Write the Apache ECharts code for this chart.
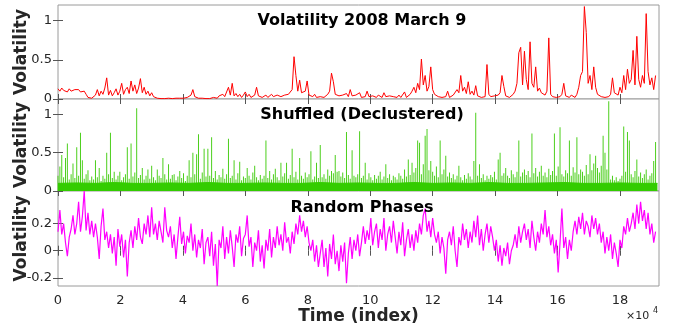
<!DOCTYPE html>
<html>
<head>
<meta charset="utf-8">
<script src="https://cdn.jsdelivr.net/npm/echarts@6/dist/echarts.min.js"></script>
<style>
  html, body { margin: 0; padding: 0; background: #fff; }
  #chart { width: 675px; height: 329px; }
</style>
</head>
<body>
<div id="chart"></div>
<script>
// sampling step of the time index (one value per step)
const TIME_STEP = 600;

const xTicks = [0, 20000, 40000, 60000, 80000, 100000, 120000, 140000, 160000, 180000];
const volTicks = [0, 0.5, 1];
const phaseTicks = [-0.2, 0, 0.2];

// panel 1: volatility 2008 March 9
const volatility = [
  0.13,0.1,0.14,0.11,0.12,0.09,0.13,0.1,0.11,0.12,
  0.1,0.12,0.09,0.11,0.1,0.06,0.02,0.01,0.01,0.03,
  0.05,0.12,0.04,0.1,0.06,0.14,0.27,0.05,0.11,0.04,
  0.08,0.13,0.05,0.1,0.2,0.06,0.12,0.15,0.07,0.23,
  0.1,0.18,0.07,0.14,0.26,0.08,0.15,0.06,0.1,0.04,
  0.08,0.03,0.02,0.01,0.01,0.005,0.01,0.005,0.01,0.01,
  0.01,0.005,0.01,0.01,0.005,0.01,0.02,0.01,0.01,0.02,
  0.02,0.05,0.12,0.03,0.01,0.01,0.005,0.01,0.01,0.005,
  0.01,0.005,0.01,0.02,0.01,0.01,0.04,0.02,0.06,0.03,
  0.04,0.15,0.05,0.2,0.04,0.07,0.03,0.06,0.02,0.05,
  0.09,0.03,0.06,0.02,0.04,0.05,0.15,0.04,0.03,0.02,
  0.03,0.05,0.02,0.04,0.06,0.03,0.02,0.05,0.04,0.03,
  0.03,0.05,0.04,0.06,0.08,0.12,0.54,0.3,0.1,0.24,
  0.08,0.06,0.1,0.23,0.05,0.04,0.03,0.06,0.02,0.04,
  0.03,0.05,0.02,0.04,0.06,0.1,0.33,0.22,0.06,0.05,
  0.04,0.02,0.05,0.03,0.07,0.03,0.12,0.04,0.02,0.05,
  0.03,0.08,0.02,0.04,0.03,0.1,0.03,0.02,0.04,0.03,
  0.02,0.05,0.03,0.02,0.08,0.03,0.02,0.04,0.02,0.03,
  0.03,0.02,0.05,0.02,0.03,0.09,0.02,0.04,0.06,0.1,
  0.15,0.08,0.2,0.12,0.51,0.18,0.3,0.1,0.16,0.41,
  0.12,0.06,0.04,0.03,0.05,0.02,0.04,0.03,0.1,0.02,
  0.03,0.05,0.04,0.12,0.08,0.3,0.1,0.15,0.07,0.22,
  0.06,0.1,0.05,0.17,0.04,0.03,0.02,0.04,0.03,0.44,
  0.06,0.03,0.02,0.04,0.03,0.05,0.08,0.3,0.16,0.04,
  0.03,0.02,0.04,0.06,0.1,0.2,0.59,0.66,0.18,0.61,
  0.25,0.12,0.73,0.2,0.15,0.41,0.1,0.14,0.08,0.06,
  0.05,0.1,0.78,0.06,0.03,0.05,0.02,0.04,0.03,0.06,
  0.2,0.04,0.03,0.02,0.05,0.03,0.02,0.06,0.15,0.3,
  0.35,1.18,0.85,0.2,0.3,0.12,0.41,0.15,0.06,0.04,
  0.03,0.05,0.02,0.04,0.03,0.06,0.27,0.08,0.1,0.05,
  0.15,0.08,0.3,0.12,0.38,0.2,0.25,0.62,0.18,0.8,
  0.25,0.15,0.3,0.2,1.09,0.35,0.18,0.27,0.12,0.3
];

// panel 2: shuffled series, peak per step
const shuffledPeaks = [
  0.2,0.32,0.47,0.18,0.43,0.62,0.15,0.22,0.36,0.17,
  0.57,0.2,0.76,0.4,0.16,0.22,0.27,0.14,0.19,0.15,
  0.4,0.18,0.3,0.13,0.2,0.16,0.5,0.22,0.76,0.17,
  0.25,0.15,0.2,0.25,0.14,0.18,0.22,0.57,0.16,0.62,
  0.19,0.24,1.08,0.17,0.21,0.3,0.15,0.2,0.28,0.16,
  0.33,0.18,0.14,0.28,0.2,0.17,0.43,0.22,0.15,0.35,
  0.16,0.21,0.22,0.14,0.19,0.26,0.17,0.23,0.13,0.2,
  0.4,0.18,0.5,0.22,0.48,0.74,0.16,0.24,0.55,0.19,
  0.55,0.2,0.7,0.17,0.26,0.15,0.21,0.18,0.29,0.16,
  0.22,0.68,0.17,0.2,0.4,0.15,0.23,0.38,0.14,0.19,
  0.17,0.3,0.2,0.15,0.24,0.33,0.18,0.14,0.21,0.16,
  0.2,0.66,0.17,0.26,0.15,0.22,0.29,0.18,0.14,0.37,
  0.19,0.23,0.37,0.16,0.21,0.55,0.18,0.25,0.15,0.43,
  0.2,0.16,0.24,0.18,0.22,0.52,0.15,0.19,0.37,0.17,
  0.6,0.18,0.22,0.16,0.28,0.2,0.26,0.23,0.47,0.25,
  0.26,0.19,0.24,0.17,0.77,0.21,0.16,0.53,0.2,0.18,
  0.22,0.78,0.17,0.2,0.37,0.15,0.23,0.18,0.14,0.21,
  0.16,0.2,0.25,0.15,0.19,0.35,0.17,0.22,0.14,0.2,
  0.18,0.15,0.23,0.2,0.16,0.28,0.19,0.41,0.21,0.37,
  0.24,0.3,0.66,0.63,0.22,0.35,0.72,0.81,0.27,0.39,
  0.25,0.2,0.32,0.18,0.66,0.22,0.28,0.46,0.19,0.24,
  0.17,0.22,0.15,0.2,0.33,0.18,0.14,0.21,0.16,0.23,
  0.19,0.15,0.39,1.02,0.2,0.35,0.17,0.22,0.14,0.2,
  0.16,0.21,0.18,0.25,0.15,0.41,0.5,0.2,0.23,0.3,
  0.2,0.17,0.27,0.22,0.18,0.25,0.66,0.19,0.24,0.28,
  0.21,0.26,0.18,0.75,0.23,0.3,0.19,0.25,0.33,0.2,
  0.24,0.18,0.29,0.21,0.26,0.75,0.2,0.32,0.83,0.22,
  0.19,0.27,0.23,0.66,0.2,0.31,0.24,0.7,0.22,0.28,
  0.25,0.2,0.34,0.22,0.48,0.27,0.36,0.46,0.3,0.24,
  0.33,0.72,0.5,0.28,1.17,0.15,0.2,0.14,0.18,0.13,
  0.16,0.2,0.84,0.25,0.77,0.66,0.22,0.18,0.26,0.41,
  0.19,0.24,0.17,0.22,0.28,0.15,0.2,0.23,0.39,0.64
];
// dense floor of the shuffled series (every 10 steps)
const shuffledFloor = [
  0.1,0.105,0.1,0.11,0.1,0.1,0.105,0.1,0.11,0.1,0.1,
  0.105,0.1,0.1,0.11,0.1,0.105,0.1,0.1,0.11,0.1,0.105,
  0.1,0.11,0.1,0.1,0.105,0.11,0.1,0.1,0.105,0.1,0.1
];

// panel 3: random phases
const randomPhases = [
  0.14,0.3,0.12,0.2,0.06,-0.04,0.1,0.16,0.26,0.12,
  0.2,0.36,0.14,0.25,0.44,0.15,0.28,0.12,0.22,0.1,
  0.2,0.1,-0.06,0.18,0.31,0.08,0.14,0.02,0.12,-0.02,
  0.1,-0.11,0.16,0.03,0.12,-0.05,0.08,-0.19,0.06,0.15,
  0.02,0.18,0.08,0.24,0.1,0.05,0.2,0.12,0.26,0.1,
  0.32,0.12,0.2,0.08,0.22,0.14,0.06,0.32,0.15,0.1,
  0.18,0.02,0.12,-0.06,0.1,0.25,0.05,0.14,-0.02,0.11,
  0.06,0.2,0.0,0.12,-0.05,0.08,0.02,0.16,-0.1,0.06,
  0.1,-0.04,0.14,-0.11,0.05,-0.26,0.08,0.02,0.18,-0.06,
  0.1,-0.02,0.15,0.03,-0.12,0.12,0.06,0.18,-0.04,0.09,
  0.12,0.26,0.03,0.1,-0.12,0.06,0.0,0.15,-0.08,0.04,
  -0.13,0.08,0.0,0.16,-0.05,0.1,0.02,0.18,0.04,0.12,
  0.0,0.21,0.06,0.1,-0.02,0.14,0.05,0.2,0.12,0.26,
  0.14,0.22,0.1,0.18,0.06,0.0,0.08,-0.08,0.04,-0.12,
  -0.02,0.08,-0.12,0.02,-0.19,0.05,-0.06,0.12,-0.1,0.0,
  -0.15,0.04,-0.08,0.06,-0.24,-0.02,0.1,-0.06,0.08,0.0,
  0.12,-0.04,0.06,0.18,0.05,0.15,0.08,0.24,0.04,0.14,
  0.2,0.02,0.16,0.08,0.24,0.0,0.12,0.18,0.06,0.22,
  0.1,-0.02,0.14,0.04,0.21,-0.04,0.08,0.16,0.02,0.12,
  0.0,0.15,0.06,0.2,0.12,0.26,0.31,0.14,0.22,0.1,
  0.24,0.12,0.06,0.14,-0.02,0.1,0.02,-0.17,0.08,0.14,
  0.04,0.18,0.0,-0.12,0.1,0.04,0.2,0.08,0.16,0.02,
  0.14,0.06,0.22,0.1,0.26,0.04,0.16,0.0,0.12,0.2,
  0.06,0.18,0.1,0.0,0.08,-0.08,0.04,-0.11,0.02,-0.04,
  0.06,-0.1,0.0,0.04,0.12,0.02,0.18,0.06,0.14,0.2,
  0.08,0.16,0.02,0.22,0.1,0.0,0.14,0.06,0.2,0.12,
  0.3,0.1,0.18,0.04,0.12,-0.02,0.08,-0.16,0.06,0.31,
  0.02,0.1,-0.06,0.08,0.0,0.14,0.22,0.12,0.25,0.16,
  0.28,0.12,0.22,0.18,0.1,0.26,0.16,0.24,0.12,0.2,
  0.06,0.14,-0.02,0.1,0.0,0.12,-0.06,0.06,-0.02,-0.12,
  0.08,0.02,0.18,0.12,0.24,0.14,0.2,0.28,0.16,0.34,
  0.2,0.36,0.22,0.3,0.16,0.28,0.12,0.2,0.06,0.14
];

const toPairs = (arr, step) => arr.map((v, i) => [i * step, v]);

const FONT = 'DejaVu Sans';
const TEXT = '#262626';
const X_MAX = 192500;

const grids = [
  { left: 58, right: 16, top: 5, height: 94 },
  { left: 58, right: 16, top: 99, height: 92 },
  { left: 58, right: 16, top: 191, height: 95 },
].map(g => Object.assign(g, {
  show: true, borderColor: '#9a9a9a', borderWidth: 1, backgroundColor: '#fff',
  containLabel: false, outerBoundsMode: 'none',
}));

function tick(values) {
  return { show: true, inside: true, length: 5, customValues: values, lineStyle: { color: '#555' } };
}

const xAxes = [];
const yAxes = [];
[0, 1, 2].forEach(g => {
  const showLabel = g === 2;
  xAxes.push({
    type: 'value', gridIndex: g, min: 0, max: X_MAX, position: 'bottom',
    axisLine: { show: false }, splitLine: { show: false },
    axisTick: tick(xTicks),
    axisLabel: {
      show: showLabel, customValues: xTicks, margin: 8,
      fontFamily: FONT, fontSize: 13, color: TEXT,
      formatter: v => String(v / 10000),
    },
    name: showLabel ? 'Time (index)' : '',
    nameLocation: 'middle', nameGap: 22,
    nameTextStyle: { fontFamily: FONT, fontSize: 17, fontWeight: 'bold', color: TEXT },
  });
  xAxes.push({
    type: 'value', gridIndex: g, min: 0, max: X_MAX, position: 'top',
    axisLine: { show: false }, splitLine: { show: false },
    axisTick: tick(xTicks), axisLabel: { show: false },
  });
  const ticks = g === 2 ? phaseTicks : volTicks;
  const range = g === 2 ? { min: -0.26, max: 0.44 } : { min: 0, max: 1.2 };
  yAxes.push(Object.assign({
    type: 'value', gridIndex: g, position: 'left',
    axisLine: { show: false }, splitLine: { show: false },
    axisTick: tick(ticks),
    axisLabel: { customValues: ticks, margin: 6, fontFamily: FONT, fontSize: 13, color: TEXT },
    name: 'Volatility', nameLocation: 'middle', nameRotate: 90, nameGap: 28,
    nameMoveOverlap: false,
    nameTextStyle: { fontFamily: FONT, fontSize: 17, fontWeight: 'bold', color: TEXT },
  }, range));
  yAxes.push(Object.assign({
    type: 'value', gridIndex: g, position: 'right',
    axisLine: { show: false }, splitLine: { show: false },
    axisTick: tick(ticks), axisLabel: { show: false },
  }, range));
});

const titleStyle = { fontFamily: FONT, fontSize: 16, fontWeight: 'bold', color: '#000' };

const chart = echarts.init(document.getElementById('chart'));
chart.setOption({
  animation: false,
  backgroundColor: '#fff',
  title: [
    { text: 'Volatility 2008 March 9', left: 357, top: 8, textAlign: 'center', textStyle: titleStyle },
    { text: 'Shuffled (Declustered)', left: 357, top: 102, textAlign: 'center', textStyle: titleStyle },
    { text: 'Random Phases', left: 357, top: 195, textAlign: 'center', textStyle: titleStyle },
  ],
  grid: grids,
  xAxis: xAxes,
  yAxis: yAxes,
  series: [
    {
      type: 'line', xAxisIndex: 0, yAxisIndex: 0, data: toPairs(volatility, TIME_STEP),
      symbol: 'none', lineStyle: { color: '#ff0000', width: 1 }, itemStyle: { color: '#ff0000' },
    },
    {
      type: 'bar', xAxisIndex: 2, yAxisIndex: 2, data: toPairs(shuffledPeaks, TIME_STEP),
      barWidth: 1, itemStyle: { color: '#4ccf1c' },
    },
    {
      type: 'line', xAxisIndex: 2, yAxisIndex: 2, data: toPairs(shuffledFloor, TIME_STEP * 10),
      symbol: 'none', lineStyle: { color: '#33cc00', width: 1 },
      areaStyle: { color: '#33cc00', opacity: 1 },
    },
    {
      type: 'line', xAxisIndex: 4, yAxisIndex: 4, data: toPairs(randomPhases, TIME_STEP),
      symbol: 'none', lineStyle: { color: '#ff00ff', width: 1.2 }, itemStyle: { color: '#ff00ff' },
    },
  ],
  graphic: [
    { type: 'text', left: 626, top: 311, style: { text: '×10', fontFamily: FONT, fontSize: 11, fill: TEXT } },
    { type: 'text', left: 653, top: 307, style: { text: '4', fontFamily: FONT, fontSize: 8, fill: TEXT } },
  ],
});
</script>
</body>
</html>
